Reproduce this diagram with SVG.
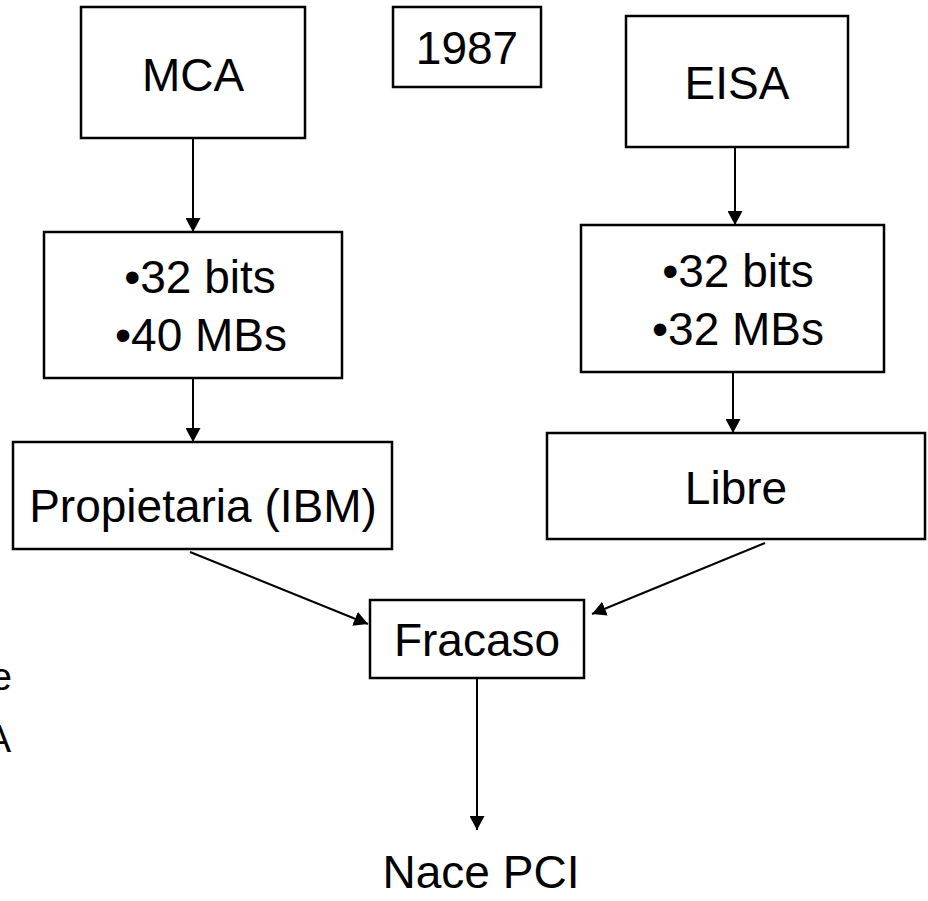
<svg xmlns="http://www.w3.org/2000/svg" width="928" height="901" viewBox="0 0 928 901">
  <style>
    .box { fill: #ffffff; stroke: #000000; stroke-width: 2.5; }
    .lbl { font-family: "Liberation Sans", Arial, sans-serif; font-size: 46px; fill: #000000; text-anchor: middle; }
    .side { font-family: "Liberation Sans", Arial, sans-serif; font-size: 38px; fill: #000000; text-anchor: end; }
    .conn { stroke: #000000; stroke-width: 2; fill: none; marker-end: url(#head); }
  </style>
  <defs>
    <marker id="head" markerUnits="userSpaceOnUse" markerWidth="14" markerHeight="15" refX="14" refY="7.5" orient="auto">
      <path d="M0,0 L14,7.5 L0,15 Z" fill="#000000"/>
    </marker>
  </defs>
  <rect width="928" height="901" fill="#ffffff"/>

  <!-- connectors -->
  <g id="connectors">
    <line class="conn" x1="193" y1="138" x2="193" y2="232"/>
    <line class="conn" x1="193" y1="378" x2="193" y2="442"/>
    <line class="conn" x1="735" y1="147" x2="735" y2="225"/>
    <line class="conn" x1="733" y1="372" x2="733" y2="433"/>
    <line class="conn" x1="190" y1="552" x2="368" y2="624"/>
    <line class="conn" x1="765" y1="543" x2="592" y2="614"/>
    <line class="conn" x1="477" y1="678" x2="477" y2="830"/>
  </g>

  <g id="mca">
    <rect class="box" x="81" y="7" width="224" height="131"/>
    <text class="lbl" x="193" y="91">MCA</text>
  </g>
  <g id="year">
    <rect class="box" x="393" y="7" width="148" height="80"/>
    <text class="lbl" x="467" y="64">1987</text>
  </g>
  <g id="eisa">
    <rect class="box" x="626" y="16" width="222" height="131"/>
    <text class="lbl" x="737" y="99">EISA</text>
  </g>
  <g id="mca-specs">
    <rect class="box" x="44" y="232" width="298" height="146"/>
    <text class="lbl" x="200" y="293">•32 bits</text>
    <text class="lbl" x="201" y="351">•40 MBs</text>
  </g>
  <g id="eisa-specs">
    <rect class="box" x="581" y="225" width="303" height="147"/>
    <text class="lbl" x="738" y="287">•32 bits</text>
    <text class="lbl" x="738" y="345">•32 MBs</text>
  </g>
  <g id="propietaria">
    <rect class="box" x="13" y="442" width="379" height="107"/>
    <text class="lbl" x="203" y="522">Propietaria (IBM)</text>
  </g>
  <g id="libre">
    <rect class="box" x="547" y="433" width="378" height="106"/>
    <text class="lbl" x="736" y="504">Libre</text>
  </g>
  <g id="fracaso">
    <rect class="box" x="370" y="600" width="214" height="78"/>
    <text class="lbl" x="477" y="656">Fracaso</text>
  </g>
  <g id="pci">
    <text class="lbl" x="481" y="888">Nace PCI</text>
  </g>

  <!-- text running in from the left edge -->
  <text class="side" x="12" y="690">e</text>
  <text class="side" x="11" y="752">A</text>
</svg>
